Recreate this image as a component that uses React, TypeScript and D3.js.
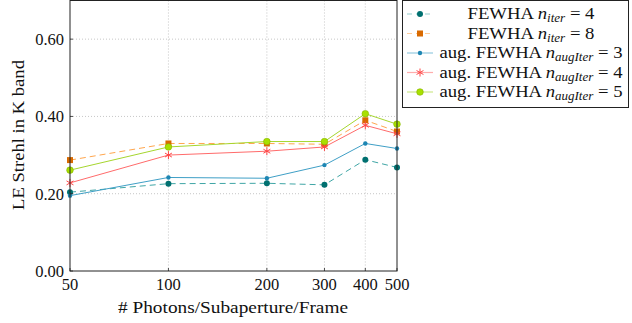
import React, { useEffect, useRef } from "react";
import * as d3 from "d3";

const photons = [50, 100, 200, 300, 400, 500];
const xTicks = [50, 100, 200, 300, 400, 500];
const yTicks = [0, 0.2, 0.4, 0.6];

const fewha4 = [0.204, 0.226, 0.227, 0.223, 0.288, 0.268];
const fewha8 = [0.287, 0.330, 0.330, 0.328, 0.390, 0.361];
const aug3 = [0.195, 0.242, 0.240, 0.274, 0.330, 0.317];
const aug4 = [0.228, 0.300, 0.310, 0.321, 0.377, 0.355];
const aug5 = [0.261, 0.321, 0.335, 0.335, 0.407, 0.380];

const seriesNames = ["FEWHA", "FEWHA", "aug. FEWHA", "aug. FEWHA", "aug. FEWHA"];
const seriesSubs = ["iter", "iter", "augIter", "augIter", "augIter"];
const seriesNums = ["4", "8", "3", "4", "5"];

type Series = {
  values: number[];
  line: string;
  mark: string;
  dash: string | null;
  shape: string;
};

const series: Series[] = [
  { values: fewha4, line: "#40a6a6", mark: "#007070", dash: "6,4", shape: "circle" },
  { values: fewha8, line: "#ffa64d", mark: "#d96a00", dash: "6,4", shape: "square" },
  { values: aug3, line: "#3f9fc6", mark: "#1d86b3", dash: null, shape: "small" },
  { values: aug4, line: "#ff6b6b", mark: "#ff4545", dash: null, shape: "star" },
  { values: aug5, line: "#a6d62e", mark: "#a8e000", dash: null, shape: "dot" },
];

const FONT = "'Liberation Serif', serif";

function drawMarker(g: any, shape: string, cx: number, cy: number, color: string) {
  if (shape === "circle") {
    g.append("circle").attr("cx", cx).attr("cy", cy).attr("r", 3).attr("fill", color);
  } else if (shape === "square") {
    g.append("rect").attr("x", cx - 3).attr("y", cy - 3).attr("width", 6).attr("height", 6).attr("fill", color);
  } else if (shape === "small") {
    g.append("circle").attr("cx", cx).attr("cy", cy).attr("r", 2.2).attr("fill", color);
  } else if (shape === "star") {
    // asterisk
    for (let k = 0; k < 3; k++) {
      const a = (k * Math.PI) / 3 + Math.PI / 2;
      g.append("line")
        .attr("x1", cx - 4 * Math.cos(a)).attr("y1", cy - 4 * Math.sin(a))
        .attr("x2", cx + 4 * Math.cos(a)).attr("y2", cy + 4 * Math.sin(a))
        .attr("stroke", color).attr("stroke-width", 1);
    }
  } else {
    g.append("circle").attr("cx", cx).attr("cy", cy).attr("r", 3.3)
      .attr("fill", color).attr("stroke", "#86b300").attr("stroke-width", 0.6);
  }
}

function Chart() {
  const ref = useRef<SVGSVGElement>(null);

  useEffect(() => {
    const svg = d3.select(ref.current);
    svg.selectAll("*").remove();

    const left = 70, right = 397, top = 0.5, bottom = 271;

    const x = d3.scaleLog().domain([50, 500]).range([left, right]);
    const y = d3.scaleLinear().domain([0, 0.7]).range([bottom, top]);

    // grid
    const grid = svg.append("g");
    yTicks.filter(d => d > 0).forEach(t => {
      grid.append("line").attr("x1", left).attr("x2", right)
        .attr("y1", y(t)).attr("y2", y(t))
        .attr("stroke", "#b8b8b8").attr("stroke-width", 0.8).attr("stroke-dasharray", "1,2");
    });
    xTicks.slice(1, -1).forEach(t => {
      grid.append("line").attr("x1", x(t)).attr("x2", x(t))
        .attr("y1", top).attr("y2", bottom)
        .attr("stroke", "#b8b8b8").attr("stroke-width", 0.8).attr("stroke-dasharray", "1,2");
    });

    // series
    const lineGen = d3.line<number>()
      .x((d, i) => x(photons[i]))
      .y(d => y(d));

    series.forEach(s => {
      const p = svg.append("path").attr("d", lineGen(s.values))
        .attr("fill", "none").attr("stroke", s.line).attr("stroke-width", 1);
      if (s.dash) p.attr("stroke-dasharray", s.dash);
      const mg = svg.append("g");
      s.values.forEach((v, i) => drawMarker(mg, s.shape, x(photons[i]), y(v), s.mark));
    });

    // frame
    svg.append("rect").attr("x", left).attr("y", top)
      .attr("width", right - left).attr("height", bottom - top)
      .attr("fill", "none").attr("stroke", "#222").attr("stroke-width", 1);

    const txt = svg.append("g").style("font-family", FONT).style("font-size", "16.5px").attr("fill", "#111");

    // ticks
    xTicks.forEach(t => {
      svg.append("line").attr("x1", x(t)).attr("x2", x(t)).attr("y1", bottom).attr("y2", bottom - 3)
        .attr("stroke", "#222").attr("stroke-width", 0.8);
      txt.append("text").attr("x", x(t)).attr("y", 290).attr("text-anchor", "middle").text(t);
    });
    yTicks.forEach(t => {
      svg.append("line").attr("x1", left).attr("x2", left + 3).attr("y1", y(t)).attr("y2", y(t))
        .attr("stroke", "#222").attr("stroke-width", 0.8);
      txt.append("text").attr("x", 64).attr("y", y(t) + 6).attr("text-anchor", "end")
        .text(d3.format(".2f")(t));
    });

    // axis labels
    txt.append("text").attr("x", 233).attr("y", 313).attr("text-anchor", "middle")
      .attr("textLength", 230).attr("lengthAdjust", "spacingAndGlyphs")
      .text("# Photons/Subaperture/Frame");
    txt.append("text").attr("transform", "translate(24,135) rotate(-90)").attr("text-anchor", "middle")
      .attr("textLength", 150).attr("lengthAdjust", "spacingAndGlyphs")
      .text("LE Strehl in K band");

    // legend
    const lg = svg.append("g");
    lg.append("rect").attr("x", 402.5).attr("y", 0.5).attr("width", 226).attr("height", 107)
      .attr("fill", "white").attr("stroke", "#222").attr("stroke-width", 1);
    series.forEach((s, i) => {
      const ly = 14 + i * 19.5;
      const l = lg.append("line").attr("x1", 407).attr("x2", 433).attr("y1", ly).attr("y2", ly)
        .attr("stroke", s.line).attr("stroke-width", 1.2).attr("opacity", 0.55);
      if (s.dash) l.attr("stroke-dasharray", "5,4");
      drawMarker(lg, s.shape, 420, ly, s.mark);
      const t = lg.append("text").attr("x", 531).attr("y", ly + 5).attr("text-anchor", "middle")
        .style("font-family", FONT).style("font-size", "16.5px").attr("fill", "#111")
        .attr("textLength", i < 2 ? 127 : 183).attr("lengthAdjust", "spacingAndGlyphs");
      t.append("tspan").text(seriesNames[i] + " ");
      t.append("tspan").style("font-style", "italic").text("n");
      t.append("tspan").style("font-style", "italic").style("font-size", "11.5px").attr("dy", 3).text(seriesSubs[i]);
      t.append("tspan").attr("dy", -3).text(" = " + seriesNums[i]);
    });
  }, []);

  return <svg ref={ref} width={632} height={323} style={{ position: "absolute", left: 0, top: 0, background: "white" }} />;
}

export default function App() {
  return <Chart />;
}
